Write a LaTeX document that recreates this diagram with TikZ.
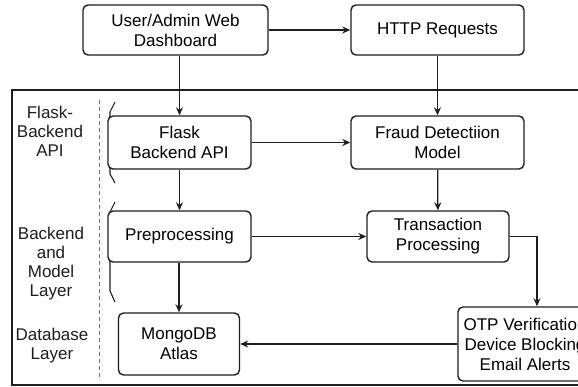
\documentclass[tikz,border=0pt]{standalone}
\usepackage{fontspec}
\setmainfont{Liberation Sans}
\usepackage{tikz}
\usetikzlibrary{calc, arrows.meta}
\definecolor{inkDark}{HTML}{1E1E1E}
\definecolor{dashGrey}{HTML}{707070}
\tikzset{
  box/.style   = {draw=inkDark, fill=white, rounded corners=5pt, align=center,
                  font={\fontsize{17}{20}\selectfont}, inner sep=0pt, line width=1.4pt},
  lbl/.style   = {align=center, font={\fontsize{17}{19}\selectfont}, text=inkDark, inner sep=0pt},
  fl/.style    = {-{Stealth[length=8pt, width=7pt]}, draw=inkDark, line width=1.3pt},
  brk/.style   = {draw=inkDark, line width=1.1pt},
  frame/.style = {draw=inkDark, line width=2pt},
  sep/.style   = {draw=dashGrey, line width=1pt, dash pattern=on 4pt off 3pt}
}

\begin{document}
\begin{tikzpicture}[x=1pt, y=-1pt]
  \useasboundingbox (0,0) rectangle (578,387);
  \clip (0,0) rectangle (578,387);
  \fill[white] (0,0) rectangle (578,387);

  % layer frame and divider
  \draw[frame] (12,90) rectangle (620,385);
  \draw[sep] (99,100) -- (99,380);

  % layer names
  \node[lbl] (lFlask) at (50,131) {Flask-\\Backend\\API};
  \node[lbl] (lModel) at (51,264) {Backend\\and\\Model\\Layer};
  \node[lbl] (lDb)    at (52,346) {Database\\Layer};

  % brackets
  \draw[brk] (115,102) -- (110,112) -- (110,174) -- (115,183);
  \draw[brk] (115,202) -- (110,212) -- (110,291) -- (115,302);

  % boxes
  \node[box, minimum width=185pt, minimum height=50pt] (dash)  at (175.5,30) {User/Admin Web\\Dashboard};
  \node[box, minimum width=173pt, minimum height=50pt] (http)  at (437.5,30) {HTTP Requests};
  \node[box, minimum width=143pt, minimum height=53pt] (flask) at (179.5,142.5) {Flask\\Backend API};
  \node[box, minimum width=173pt, minimum height=53pt] (fraud) at (437.5,142.5) {Fraud Detectiion\\Model};
  \node[box, minimum width=143pt, minimum height=51pt] (prep)  at (179.5,236.5) {Preprocessing};
  \node[box, minimum width=142pt, minimum height=51pt] (trans) at (438,236.5) {Transaction\\Processing};
  \node[box, minimum width=121pt, minimum height=62pt] (mongo) at (179,344) {MongoDB\\Atlas};
  \node[box, minimum width=134pt, minimum height=74pt] (otp)   at (525,344) {OTP Verification\\Device Blocking\\Email Alerts};

  % flows
  \draw[fl] (dash) -- (http);
  \draw[fl] (dash.south -| flask.north) -- (flask);
  \draw[fl] (http) -- (fraud);
  \draw[fl] (flask) -- (fraud);
  \draw[fl] (flask) -- (prep);
  \draw[fl] (fraud) -- (trans);
  \draw[fl] (prep) -- (trans);
  \draw[fl] (prep.south -| mongo.north) -- (mongo);
  \draw[fl] (trans.east) -| ([xshift=12pt]otp.north);
  \draw[fl] (otp) -- (mongo);
\end{tikzpicture}
\end{document}
